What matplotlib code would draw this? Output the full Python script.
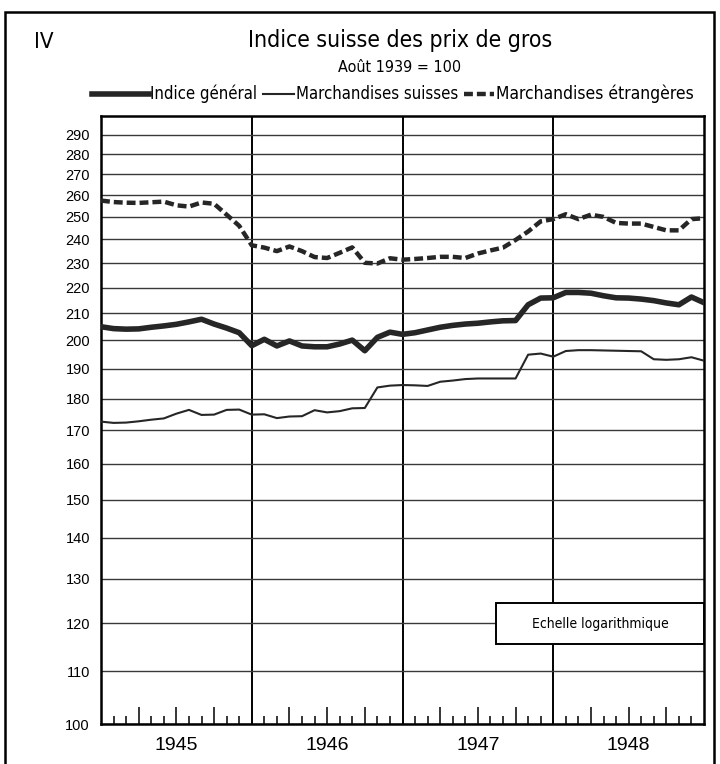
import numpy as np
import matplotlib
matplotlib.use('Agg')
import matplotlib.pyplot as plt
from matplotlib.lines import Line2D
from matplotlib.patches import Rectangle
from matplotlib.ticker import FixedLocator, NullLocator

# fin de mois, déc. 1944 -> déc. 1948
mois = np.arange(49)

indice_general = [205.0, 204.3, 204.1, 204.2, 204.8, 205.3, 205.9, 206.8, 207.8, 206.0,
                  204.5, 202.8, 198.1, 200.4, 198.0, 199.8, 198.0, 197.7, 197.7, 198.7,
                  200.1, 196.3, 201.1, 203.0, 202.2, 202.8, 203.8, 204.8, 205.5, 206.0,
                  206.3, 206.8, 207.2, 207.3, 213.3, 215.9, 216.0, 218.1, 218.1, 217.8,
                  216.8, 216.0, 215.9, 215.5, 214.9, 214.0, 213.3, 216.3, 214.1]

marchandises_suisses = [172.7, 172.3, 172.4, 172.8, 173.3, 173.7, 175.2, 176.4, 174.8, 174.9,
                        176.4, 176.5, 174.9, 175.0, 173.8, 174.3, 174.4, 176.3, 175.6, 176.0,
                        176.9, 177.0, 183.7, 184.3, 184.5, 184.4, 184.2, 185.6, 186.0, 186.5,
                        186.7, 186.7, 186.7, 186.7, 194.9, 195.3, 194.2, 196.2, 196.5, 196.5,
                        196.4, 196.3, 196.2, 196.1, 193.3, 193.1, 193.3, 194.0, 192.8]

marchandises_etrangeres = [257.5, 256.8, 256.5, 256.4, 256.7, 257.0, 255.3, 254.7, 256.6, 256.0,
                           251.0, 246.0, 237.5, 236.5, 235.0, 237.0, 235.0, 232.5, 232.1, 234.3,
                           236.6, 230.1, 229.8, 232.0, 231.4, 231.7, 232.1, 232.6, 232.6, 232.1,
                           234.0, 235.3, 236.5, 239.8, 243.5, 248.0, 249.0, 251.2, 249.0, 251.0,
                           250.0, 247.3, 247.0, 247.0, 245.5, 244.0, 244.0, 249.0, 249.4]

annees = ['1945', '1946', '1947', '1948']
graduations = [100, 110, 120, 130, 140, 150, 160, 170, 180, 190, 200,
               210, 220, 230, 240, 250, 260, 270, 280, 290]

W, H = 720, 764
plt.rcParams['font.family'] = ['Liberation Sans', 'DejaVu Sans']
cond = dict(family=['DejaVu Sans'], stretch='condensed')


def fx(x):
    return x / W


def fy(y):
    return 1 - y / H


fig = plt.figure(figsize=(7.2, 7.64), dpi=100)
ax = fig.add_axes([fx(101), fy(724), (704 - 101) / W, (724 - 116) / H])

ax.set_yscale('log')
ax.set_ylim(100, 300)
ax.set_xlim(0, 48)
ax.yaxis.set_major_locator(FixedLocator(graduations))
ax.yaxis.set_minor_locator(NullLocator())
ax.set_yticklabels([str(g) for g in graduations])
ax.tick_params(axis='y', length=0, pad=8, labelsize=10.5)

# graduations mensuelles (trimestres plus longs)
trim = [12 * a + m for a in range(4) for m in (3, 6, 9)]
mens = [12 * a + m for a in range(4) for m in range(1, 12) if m % 3]
ax.xaxis.set_major_locator(FixedLocator(trim))
ax.xaxis.set_minor_locator(FixedLocator(mens))
ax.tick_params(axis='x', which='major', direction='in', length=12, width=1.1, labelbottom=False)
ax.tick_params(axis='x', which='minor', direction='in', length=6, width=1.1)
ax.tick_params(axis='x', top=False)

ax.grid(axis='y', which='major', color='#383838', lw=1.0, zorder=1)
for k in range(1, 4):
    ax.axvline(12 * k, color='black', lw=1.4, zorder=1)
for s in ax.spines.values():
    s.set_linewidth(1.8)

ax.plot(mois, marchandises_etrangeres, color='#262626', lw=3.2, ls=(0, (2.0, 0.9)),
        dash_capstyle='butt', zorder=4)
ax.plot(mois, indice_general, color='#262626', lw=4.0, solid_joinstyle='round', zorder=4)
ax.plot(mois, marchandises_suisses, color='#262626', lw=1.5, zorder=4)

for i, a in enumerate(annees):
    ax.text(12 * i + 6, -(745 - 724) / 608, a, transform=ax.get_xaxis_transform(),
            ha='center', va='center', fontsize=14)

# cartouche
ax.add_patch(Rectangle((0.655, 0.1316), 0.345, 0.0674, transform=ax.transAxes,
                       facecolor='white', edgecolor='black', lw=1.4, zorder=3))
ax.text(0.8275, 0.165, 'Echelle logarithmique', transform=ax.transAxes,
        ha='center', va='center', fontsize=10, zorder=5, **cond)

# titres
fig.text(fx(34), fy(42), 'IV', fontsize=16, va='center', ha='left', **cond)
fig.text(fx(400), fy(41), 'Indice suisse des prix de gros', fontsize=16.5,
         ha='center', va='center', **cond)
fig.text(fx(400), fy(68), 'Août 1939 = 100', fontsize=11.5,
         ha='center', va='center', **cond)

# légende
ly = fy(94)
fig.add_artist(Line2D([fx(92), fx(149)], [ly, ly], color='#262626', lw=4.0))
fig.text(fx(150), ly, 'Indice général', fontsize=12, va='center', **cond)
fig.add_artist(Line2D([fx(263), fx(294)], [ly, ly], color='#262626', lw=1.5))
fig.text(fx(296), ly, 'Marchandises suisses', fontsize=12, va='center', **cond)
fig.add_artist(Line2D([fx(464), fx(494)], [ly, ly], color='#262626', lw=3.2,
                      ls=(0, (2.0, 0.9)), dash_capstyle='butt'))
fig.text(fx(496), ly, 'Marchandises étrangères', fontsize=12.5, va='center', **cond)

# cadre extérieur
fig.add_artist(Rectangle((fx(5), -0.05), (714 - 5) / W, fy(12) + 0.05,
                         transform=fig.transFigure, fill=False, lw=1.8, edgecolor='black'))

fig.savefig('out.png', dpi=100)
